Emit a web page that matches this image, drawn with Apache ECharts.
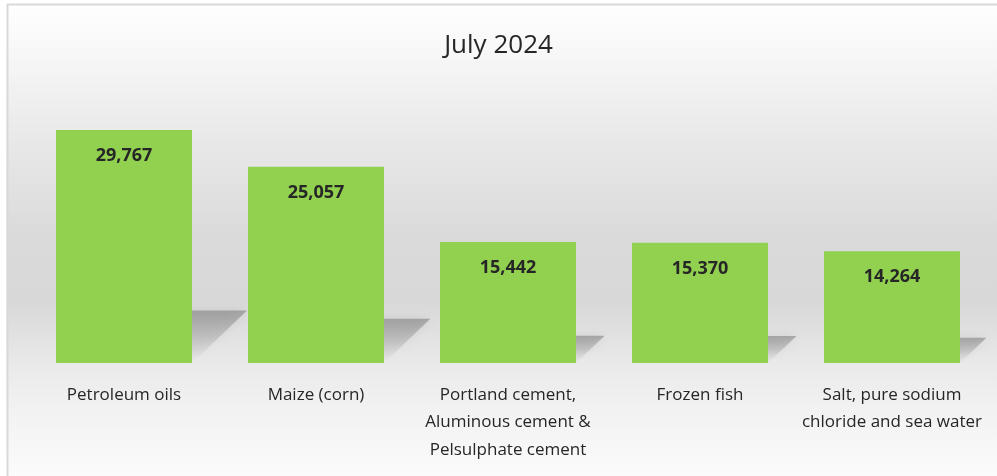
<!DOCTYPE html>
<html>
<head>
<meta charset="utf-8">
<script src="https://cdn.jsdelivr.net/npm/echarts@6/dist/echarts.min.js"></script>
<style>html,body{margin:0;padding:0;background:#fff}#c{width:997px;height:476px}</style>
</head>
<body>
<div id="c"></div>
<script>
const titleText = 'July 2024';
const categories = [
  'Petroleum oils',
  'Maize (corn)',
  'Portland cement,\nAluminous cement &\nPelsulphate cement',
  'Frozen fish',
  'Salt, pure sodium\nchloride and sea water'
];
const values = [29767, 25057, 15442, 15370, 14264];

const chart = echarts.init(document.getElementById('c'), null, {renderer: 'canvas'});
const fmt = v => v.toLocaleString('en-US');

const bg = new echarts.graphic.LinearGradient(0, 0, 0, 1, [
  {offset: 0, color: '#ffffff'},
  {offset: 0.1, color: '#f8f8f8'},
  {offset: 0.3, color: '#e8e8e8'},
  {offset: 0.5, color: '#dadada'},
  {offset: 0.63, color: '#d8d8d8'},
  {offset: 0.71, color: '#e2e2e2'},
  {offset: 0.77, color: '#eaeaea'},
  {offset: 0.85, color: '#f1f1f1'},
  {offset: 1, color: '#fbfbfb'}
]);

chart.setOption({
  backgroundColor: bg,
  animation: false,
  title: {
    text: titleText,
    left: 'center',
    top: 33,
    padding: 0,
    textStyle: {fontFamily: 'Open Sans', fontSize: 26, fontWeight: 'normal', color: '#262626'}
  },
  graphic: [
    {type: 'rect', z: 100, silent: true, shape: {x: 0, y: 0, width: 6.5, height: 476}, style: {fill: '#ffffff'}},
    {type: 'rect', z: 100, silent: true, shape: {x: 0, y: 0, width: 997, height: 3.5}, style: {fill: '#ffffff'}},
    {type: 'line', z: 101, silent: true, shape: {x1: 7.5, y1: 4, x2: 7.5, y2: 476}, style: {stroke: '#d9d9d9', lineWidth: 2}},
    {type: 'line', z: 101, silent: true, shape: {x1: 7, y1: 4.5, x2: 997, y2: 4.5}, style: {stroke: '#d9d9d9', lineWidth: 2}}
  ],
  grid: {left: 28, right: 9, top: 89, bottom: 113, containLabel: false},
  xAxis: {
    type: 'category',
    data: categories,
    axisLine: {show: false},
    axisTick: {show: false},
    axisLabel: {interval: 0, margin: 18, fontFamily: 'Open Sans', fontSize: 17, lineHeight: 27.5, color: '#262626', align: 'center', verticalAlign: 'top'}
  },
  yAxis: {type: 'value', min: 0, max: 35000, show: false, splitLine: {show: false}},
  series: [
    {
      type: 'custom',
      name: 'shadow',
      z: 1,
      clip: false,
      silent: true,
      data: values.map((v, i) => [i, v]),
      renderItem: function (params, api) {
        const i = api.value(0), v = api.value(1);
        const top = api.coord([i, v]);
        const base = api.coord([i, 0]);
        const band = api.coord([1, 0])[0] - api.coord([0, 0])[0];
        const bw = band * 0.7083;
        const xL = base[0] - bw / 2, xR = base[0] + bw / 2, yB = base[1];
        const h = yB - top[1];
        const s = Math.min(h * 0.225, 56);
        return {
          type: 'polygon',
          shape: {points: [[xL, yB], [xR, yB], [xR + 1.05 * s, yB - s], [xL + 1.05 * s, yB - s]]},
          style: {
            fill: new echarts.graphic.LinearGradient(0, 0, 0, 1, [
              {offset: 0, color: 'rgba(120,120,120,0.55)'},
              {offset: 0.5, color: 'rgba(140,140,140,0.33)'},
              {offset: 1, color: 'rgba(170,170,170,0)'}
            ]),
            shadowBlur: 10,
            shadowColor: 'rgba(130,130,130,0.35)'
          }
        };
      }
    },
    {
      type: 'bar',
      z: 2,
      data: values,
      barWidth: '70.83%',
      itemStyle: {color: '#92d050'},
      label: {
        show: true,
        position: 'insideTop',
        distance: 17,
        formatter: p => fmt(p.value),
        fontFamily: 'Open Sans',
        fontWeight: 'bold',
        fontSize: 18,
        color: '#262626'
      }
    }
  ]
});
</script>
</body>
</html>
